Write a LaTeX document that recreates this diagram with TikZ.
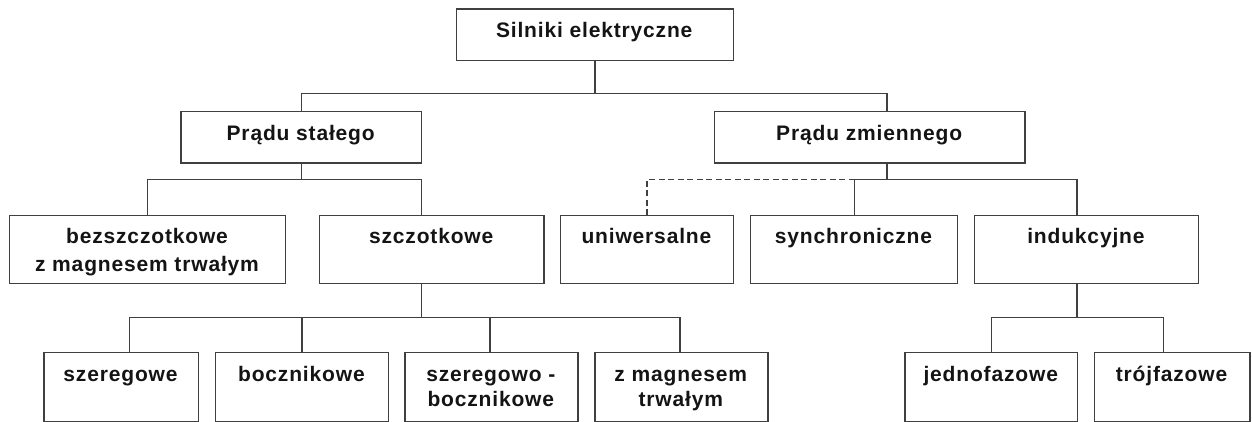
\documentclass[tikz,border=0pt]{standalone}
\usepackage{fontspec}
\setmainfont{Liberation Sans}[LetterSpace=4]
\begin{document}
\begin{tikzpicture}[x=1pt,y=-1pt,
  box/.style={draw=black!75, line width=1.4pt, rectangle, inner sep=0pt, anchor=north west},
  lbl/.style={anchor=base, inner sep=0pt, align=center, text=black!92,
    font=\bfseries\fontsize{21}{25}\selectfont},
  conn/.style={draw=black!75, line width=1.4pt},
  dconn/.style={conn, dashed, dash pattern=on 6pt off 3.5pt}]
\useasboundingbox (0,0) rectangle (1252,421);
% boxes
\node[box, minimum width=277pt, minimum height=51.7pt] (root) at (455.7,8.3) {};
\node[box, minimum width=240.7pt, minimum height=51.6pt] (ps) at (180.3,110.7) {};
\node[box, minimum width=310.3pt, minimum height=51.6pt] (pz) at (714,110.7) {};
\node[box, minimum width=276pt, minimum height=67.7pt] (bez) at (9,215) {};
\node[box, minimum width=224.3pt, minimum height=67.7pt] (szc) at (319,215) {};
\node[box, minimum width=172.7pt, minimum height=67.7pt] (uni) at (560,215) {};
\node[box, minimum width=207pt, minimum height=67.7pt] (syn) at (750,215) {};
\node[box, minimum width=224.3pt, minimum height=67.7pt] (ind) at (973.7,215) {};
\node[box, minimum width=154.4pt, minimum height=68.8pt] (sze) at (43.3,351.7) {};
\node[box, minimum width=172.7pt, minimum height=68.8pt] (boc) at (215,351.7) {};
\node[box, minimum width=173pt, minimum height=68.8pt] (szb) at (404.3,351.7) {};
\node[box, minimum width=173pt, minimum height=68.8pt] (zmt) at (594.3,351.7) {};
\node[box, minimum width=172.7pt, minimum height=68.8pt] (jed) at (904.3,351.7) {};
\node[box, minimum width=155.6pt, minimum height=68.8pt] (tro) at (1093.7,351.7) {};
% labels (anchor base = baseline of the last line)
\node[lbl] (root-t) at (594.2,37.3) {Silniki elektryczne};
\node[lbl] (ps-t) at (300.7,140) {Prądu stałego};
\node[lbl] (pz-t) at (869.2,140) {Prądu zmiennego};
\node[lbl] (bez-t) at (147,271.5) {bezszczotkowe\\[3pt]z magnesem trwałym};
\node[lbl] (szc-t) at (431.2,243.3) {szczotkowe};
\node[lbl] (uni-t) at (646.4,243.3) {uniwersalne};
\node[lbl] (syn-t) at (853.5,243.3) {synchroniczne};
\node[lbl] (ind-t) at (1085.9,243.3) {indukcyjne};
\node[lbl] (sze-t) at (120.5,381.7) {szeregowe};
\node[lbl] (boc-t) at (301.4,381.7) {bocznikowe};
\node[lbl] (szb-t) at (490.8,406.7) {szeregowo -\\bocznikowe};
\node[lbl] (zmt-t) at (680.8,406.7) {z magnesem\\trwałym};
\node[lbl] (jed-t) at (990.7,381.7) {jednofazowe};
\node[lbl] (tro-t) at (1171.5,381.7) {trójfazowe};
% bus levels and stem positions
\coordinate (y1) at (0,93.7);
\coordinate (y2) at (0,179.3);
\coordinate (y3) at (0,317.7);
\coordinate (xpz) at (887,0);
\coordinate (xszc) at (421.7,0);
\coordinate (xind) at (1077,0);
\coordinate (xsze) at (129.3,0);
\coordinate (xszb) at (490,0);
\coordinate (xzmt) at (680,0);
\coordinate (xtro) at (1163.7,0);
% level 1
\draw[conn] (root.south) -- (root.south |- y1);
\draw[conn] (ps.north) -- (ps.north |- y1) -- (xpz |- y1) -- (xpz |- pz.north);
% level 2 DC
\draw[conn] (ps.south) -- (ps.south |- y2);
\draw[conn] (bez.north) -- (bez.north |- y2) -- (xszc |- y2) -- (xszc |- szc.north);
% level 2 AC
\draw[conn] (xpz |- pz.south) -- (xpz |- y2);
\draw[dconn] (uni.north) -- (uni.north |- y2) -- (syn.north |- y2);
\draw[conn] (syn.north) -- (syn.north |- y2) -- (xind |- y2) -- (xind |- ind.north);
% level 3 DC
\draw[conn] (xszc |- szc.south) -- (xszc |- y3);
\draw[conn] (xsze |- sze.north) -- (xsze |- y3) -- (xzmt |- y3) -- (xzmt |- zmt.north);
\draw[conn] (boc.north) -- (boc.north |- y3);
\draw[conn] (xszb |- szb.north) -- (xszb |- y3);
% level 3 AC
\draw[conn] (xind |- ind.south) -- (xind |- y3);
\draw[conn] (jed.north) -- (jed.north |- y3) -- (xtro |- y3) -- (xtro |- tro.north);
\end{tikzpicture}
\end{document}
